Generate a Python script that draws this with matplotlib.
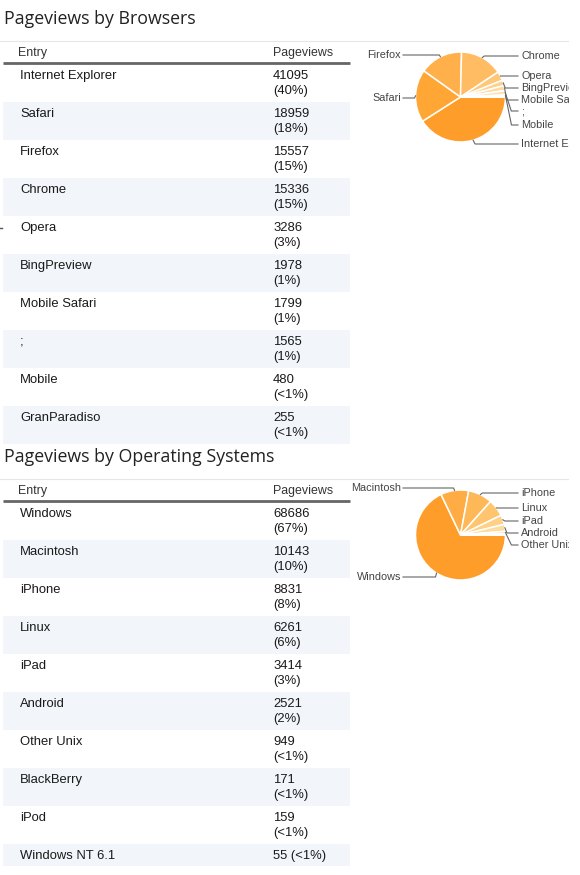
import numpy as np
import matplotlib
matplotlib.use("Agg")
import matplotlib.pyplot as plt
from matplotlib.patches import Rectangle

# browser data (pageviews + share shown in table)
browser_names = ["Internet Explorer", "Safari", "Firefox", "Chrome", "Opera",
                 "BingPreview", "Mobile Safari", ";", "Mobile", "GranParadiso"]
browser_views = [41095, 18959, 15557, 15336, 3286, 1978, 1799, 1565, 480, 255]
browser_share = ["40%", "18%", "15%", "15%", "3%", "1%", "1%", "1%", "<1%", "<1%"]

# operating system data
os_names = ["Windows", "Macintosh", "iPhone", "Linux", "iPad", "Android",
            "Other Unix", "BlackBerry", "iPod", "Windows NT 6.1"]
os_views = [68686, 10143, 8831, 6261, 3414, 2521, 949, 171, 159, 55]
os_share = ["67%", "10%", "8%", "6%", "3%", "2%", "<1%", "<1%", "<1%", "<1%"]

# slice colours, darkest for the biggest slice
browser_colors = ["#ff9d2a", "#ffa634", "#ffb04a", "#ffbc62", "#ffc777",
                  "#ffd18c", "#ffdaa0", "#ffe2b3", "#ffeac6", "#fff0d6"]
os_colors = ["#ff9d2a", "#ffac44", "#ffb857", "#ffc56e", "#ffd086",
             "#ffdb9e", "#ffe4b3", "#ffeac6", "#ffefd3", "#fff3df"]

# label y (pixels) for pie labels that are visible in the reference
browser_label_y = {"Firefox": 55, "Safari": 98, "Chrome": 56, "Opera": 76,
                   "BingPreview": 88, "Mobile Safari": 100, ";": 111,
                   "Mobile": 125, "Internet Explorer": 144}
os_label_y = {"Macintosh": 488, "Windows": 577, "iPhone": 493, "Linux": 508,
              "iPad": 521, "Android": 533, "Other Unix": 545}

W, H = 580, 875
fig = plt.figure(figsize=(W / 100, H / 100), dpi=100)
ax = fig.add_axes([0, 0, 1, 1])

TABLE_FONT = "Liberation Sans"
TITLE_FONT = "Open Sans"
shade = "#f2f5fa"


def draw_section(top, title, names, views, share):
    # title and thin rule
    ax.text(4, top + 19, title, fontsize=12.8, family=TITLE_FONT,
            color="#222222", va="center", ha="left")
    ax.plot([0, 569], [top + 41, top + 41], color="#e6e6e6", lw=0.8)
    # header
    ax.text(18, top + 53, "Entry", fontsize=8.9, family=TABLE_FONT,
            color="#333333", va="center")
    ax.text(273, top + 53, "Pageviews", fontsize=8.9, family=TABLE_FONT,
            color="#333333", va="center")
    ax.plot([3, 350], [top + 62.5, top + 62.5], color="#666666", lw=2,
            solid_capstyle="butt")
    row_top = top + 64
    for i, (n, v, s) in enumerate(zip(names, views, share)):
        two_lines = n != "Windows NT 6.1"
        h = 38 if two_lines else 22
        if i % 2 == 1:
            ax.add_patch(Rectangle((3, row_top), 347, h, facecolor=shade,
                                   edgecolor="none", zorder=0))
        ax.text(20, row_top + 12, n, fontsize=9.4, family=TABLE_FONT,
                color="#1a1a1a", va="center")
        if two_lines:
            ax.text(273, row_top + 12, str(v), fontsize=9.4, family=TABLE_FONT,
                    color="#1a1a1a", va="center")
            ax.text(273, row_top + 27, "(" + s + ")", fontsize=9.4,
                    family=TABLE_FONT, color="#1a1a1a", va="center")
        else:
            ax.text(273, row_top + 12, f"{v} ({s})", fontsize=9.4,
                    family=TABLE_FONT, color="#1a1a1a", va="center")
        row_top += h


def draw_pie(cx, cy, names, views, colors, label_y):
    r = 45
    wedges, _ = ax.pie(views, colors=colors, startangle=0, counterclock=True,
                       center=(cx, cy), radius=r, frame=True,
                       wedgeprops=dict(edgecolor="white", linewidth=1.1))
    for w, n in zip(wedges, names):
        if n not in label_y:
            continue
        mid = np.deg2rad((w.theta1 + w.theta2) / 2)
        px, py = cx + r * np.cos(mid), cy + r * np.sin(mid)
        ly = label_y[n]
        if np.cos(mid) < 0:
            ex = px - 1
            ax.plot([px, ex, 403], [py, ly, ly], color="#666666", lw=0.8)
            ax.text(401, ly, n, fontsize=7.8, family=TABLE_FONT,
                    color="#444444", va="center", ha="right")
        else:
            ex = max(px + 2, cx + 4)
            if ly > cy + 5 and px > cx + 30:
                ex = px + 6
            ax.plot([px, ex, 518], [py, ly, ly], color="#666666", lw=0.8)
            ax.text(521, ly, n, fontsize=7.8, family=TABLE_FONT,
                    color="#444444", va="center", ha="left")


draw_section(0, "Pageviews by Browsers", browser_names, browser_views,
             browser_share)
draw_section(438, "Pageviews by Operating Systems", os_names, os_views,
             os_share)
draw_pie(460.5, 97, browser_names, browser_views, browser_colors,
         browser_label_y)
draw_pie(460.5, 535, os_names, os_views, os_colors, os_label_y)

# small stray mark at the left edge of the page
ax.plot([0, 2], [227.5, 227.5], color="#555555", lw=1)

# the page is cut off on the right
ax.add_patch(Rectangle((569, 0), 20, H, facecolor="white", edgecolor="none",
                       zorder=10))

ax.set_xlim(0, W)
ax.set_ylim(H, 0)
ax.set_aspect("auto")
ax.axis("off")
fig.savefig("out.png", dpi=100)
